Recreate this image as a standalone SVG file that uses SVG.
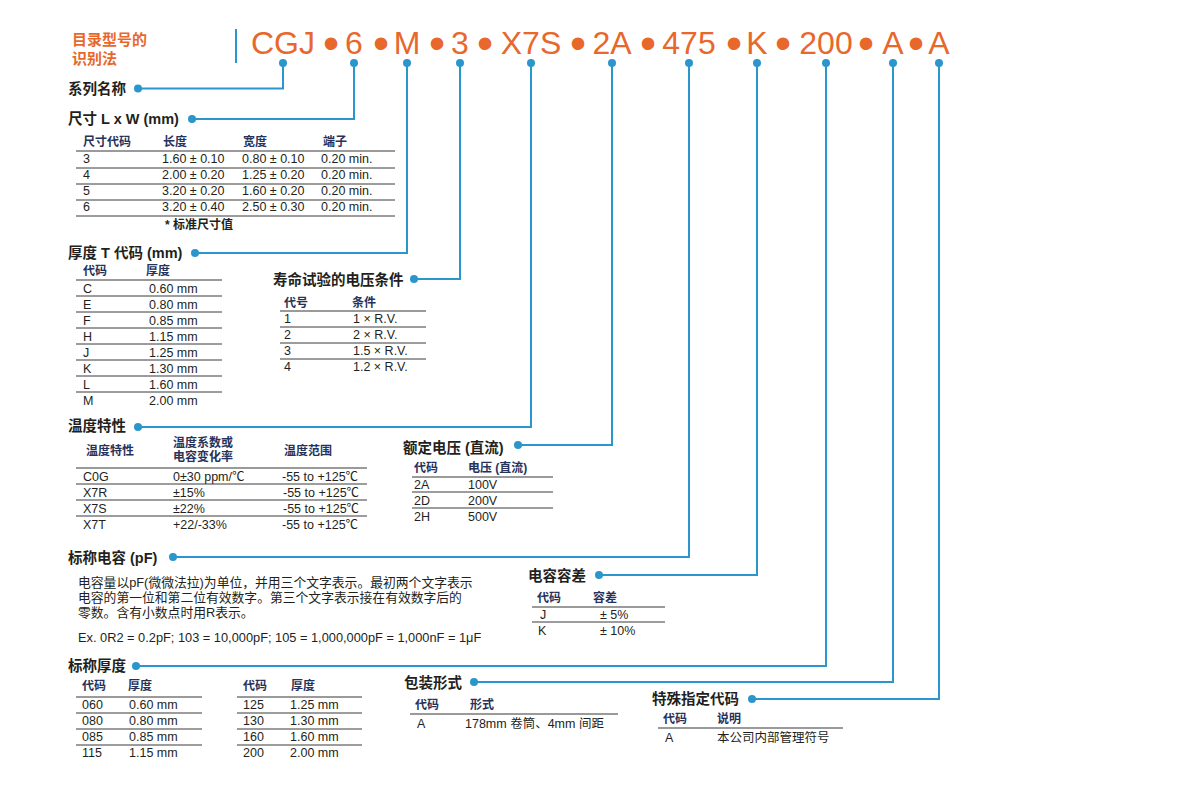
<svg xmlns="http://www.w3.org/2000/svg" width="1195" height="790" viewBox="0 0 1195 790">
<style>
text{font-family:"Liberation Sans","Noto Sans CJK SC",sans-serif;}
.ttl{font-size:32px;fill:#E8682C;text-anchor:middle;}
.bul{font-size:46px;fill:#E8682C;text-anchor:middle;}
.lab{font-size:15px;font-weight:bold;fill:#E8682C;}
.h{font-size:14.5px;font-weight:bold;fill:#231F20;}
.th{font-size:12px;font-weight:bold;fill:#27325A;}
.td{font-size:12.5px;fill:#231F20;}
.p{font-size:12.8px;fill:#231F20;}
.hl{stroke:#9A9A9A;stroke-width:2;}
.rl{stroke:#3A3A3A;stroke-width:1;}
.con{fill:none;stroke:#2A96CC;stroke-width:2;}
.dot{fill:#2A96CC;}
</style>
<rect width="1195" height="790" fill="#FFFFFF"/>
<g id="title">
<text class="lab" x="72" y="45">目录型号的</text>
<text class="lab" x="72" y="64">识别法</text>
<line x1="236" y1="29" x2="236" y2="63" stroke="#2A96CC" stroke-width="2"/>
<text class="ttl" x="283" y="54">CGJ</text>
<text class="ttl" x="354" y="54">6</text>
<text class="ttl" x="407" y="54">M</text>
<text class="ttl" x="460" y="54">3</text>
<text class="ttl" x="531" y="54">X7S</text>
<text class="ttl" x="612" y="54">2A</text>
<text class="ttl" x="689" y="54">475</text>
<text class="ttl" x="757" y="54">K</text>
<text class="ttl" x="826" y="54">200</text>
<text class="ttl" x="893" y="54">A</text>
<text class="ttl" x="939" y="54">A</text>
<text class="bul" x="331" y="59">•</text>
<text class="bul" x="381" y="59">•</text>
<text class="bul" x="437" y="59">•</text>
<text class="bul" x="485" y="59">•</text>
<text class="bul" x="578" y="59">•</text>
<text class="bul" x="648" y="59">•</text>
<text class="bul" x="734" y="59">•</text>
<text class="bul" x="783" y="59">•</text>
<text class="bul" x="866" y="59">•</text>
<text class="bul" x="916" y="59">•</text>
</g>
<g id="connectors">
<path class="con" d="M283,63 V88.5 H138"/>
<path class="con" d="M354,63 V119 H192"/>
<path class="con" d="M407,63 V253 H195"/>
<path class="con" d="M460,63 V279 H414"/>
<path class="con" d="M531,63 V427 H138"/>
<path class="con" d="M612,63 V445 H518"/>
<path class="con" d="M689,63 V557 H173"/>
<path class="con" d="M757,63 V575 H599"/>
<path class="con" d="M826,63 V666 H136"/>
<path class="con" d="M893,63 V682 H474"/>
<path class="con" d="M939,63 V699 H752"/>
<g class="dot">
<circle cx="283" cy="63" r="4"/><circle cx="354" cy="63" r="4"/><circle cx="407" cy="63" r="4"/><circle cx="460" cy="63" r="4"/><circle cx="531" cy="63" r="4"/><circle cx="612" cy="63" r="4"/><circle cx="689" cy="63" r="4"/><circle cx="757" cy="63" r="4"/><circle cx="826" cy="63" r="4"/><circle cx="893" cy="63" r="4"/><circle cx="939" cy="63" r="4"/>
<circle cx="138" cy="88.5" r="4"/><circle cx="192" cy="119" r="4"/><circle cx="195" cy="253" r="4"/><circle cx="414" cy="279" r="4"/><circle cx="138" cy="427" r="4"/><circle cx="518" cy="445" r="4"/><circle cx="173" cy="557" r="4"/><circle cx="599" cy="575" r="4"/><circle cx="136" cy="666" r="4"/><circle cx="474" cy="682" r="4"/><circle cx="752" cy="699" r="4"/>
</g>
</g>
<g id="series">
<text class="h" x="68" y="94">系列名称</text>
</g>
<g id="size">
<text class="h" x="68" y="124">尺寸 L x W (mm)</text>
<text class="th" x="83" y="146">尺寸代码</text><text class="th" x="163" y="146">长度</text><text class="th" x="243" y="146">宽度</text><text class="th" x="323" y="146">端子</text>
<line class="hl" x1="76" y1="151" x2="395" y2="151"/>
<text class="td" x="83" y="163">3</text><text class="td" x="162" y="163">1.60 ± 0.10</text><text class="td" x="242" y="163">0.80 ± 0.10</text><text class="td" x="321" y="163">0.20 min.</text>
<line class="rl" x1="76" y1="168" x2="395" y2="168"/>
<text class="td" x="83" y="179">4</text><text class="td" x="162" y="179">2.00 ± 0.20</text><text class="td" x="242" y="179">1.25 ± 0.20</text><text class="td" x="321" y="179">0.20 min.</text>
<line class="rl" x1="76" y1="184" x2="395" y2="184"/>
<text class="td" x="83" y="195">5</text><text class="td" x="162" y="195">3.20 ± 0.20</text><text class="td" x="242" y="195">1.60 ± 0.20</text><text class="td" x="321" y="195">0.20 min.</text>
<line class="rl" x1="76" y1="200" x2="395" y2="200"/>
<text class="td" x="83" y="211">6</text><text class="td" x="162" y="211">3.20 ± 0.40</text><text class="td" x="242" y="211">2.50 ± 0.30</text><text class="td" x="321" y="211">0.20 min.</text>
<line class="rl" x1="76" y1="216" x2="395" y2="216"/>
<text x="165" y="229" font-size="12" font-weight="bold" fill="#231F20">* 标准尺寸值</text>
</g>
<g id="thickness-t">
<text class="h" x="68" y="258">厚度 T 代码 (mm)</text>
<text class="th" x="83" y="275">代码</text><text class="th" x="146" y="275">厚度</text>
<line class="hl" x1="76" y1="280" x2="222" y2="280"/>
<text class="td" x="83" y="293">C</text><text class="td" x="149" y="293">0.60 mm</text>
<line class="rl" x1="76" y1="296" x2="222" y2="296"/>
<text class="td" x="83" y="309">E</text><text class="td" x="149" y="309">0.80 mm</text>
<line class="rl" x1="76" y1="312" x2="222" y2="312"/>
<text class="td" x="83" y="325">F</text><text class="td" x="149" y="325">0.85 mm</text>
<line class="rl" x1="76" y1="328" x2="222" y2="328"/>
<text class="td" x="83" y="341">H</text><text class="td" x="149" y="341">1.15 mm</text>
<line class="rl" x1="76" y1="344" x2="222" y2="344"/>
<text class="td" x="83" y="357">J</text><text class="td" x="149" y="357">1.25 mm</text>
<line class="rl" x1="76" y1="360" x2="222" y2="360"/>
<text class="td" x="83" y="373">K</text><text class="td" x="149" y="373">1.30 mm</text>
<line class="rl" x1="76" y1="376" x2="222" y2="376"/>
<text class="td" x="83" y="389">L</text><text class="td" x="149" y="389">1.60 mm</text>
<line class="rl" x1="76" y1="392" x2="222" y2="392"/>
<text class="td" x="83" y="405">M</text><text class="td" x="149" y="405">2.00 mm</text>
</g>
<g id="life-test">
<text class="h" x="273" y="285">寿命试验的电压条件</text>
<text class="th" x="284" y="307">代号</text><text class="th" x="352" y="307">条件</text>
<line class="hl" x1="280" y1="311" x2="426" y2="311"/>
<text class="td" x="284" y="323">1</text><text class="td" x="353" y="323">1 × R.V.</text>
<line class="rl" x1="280" y1="327" x2="426" y2="327"/>
<text class="td" x="284" y="339">2</text><text class="td" x="353" y="339">2 × R.V.</text>
<line class="rl" x1="280" y1="343" x2="426" y2="343"/>
<text class="td" x="284" y="355">3</text><text class="td" x="353" y="355">1.5 × R.V.</text>
<line class="rl" x1="280" y1="359" x2="426" y2="359"/>
<text class="td" x="284" y="371">4</text><text class="td" x="353" y="371">1.2 × R.V.</text>
</g>
<g id="temp-char">
<text class="h" x="68" y="431">温度特性</text>
<text class="th" x="86" y="455">温度特性</text>
<text class="th" x="173" y="447">温度系数或</text>
<text class="th" x="173" y="461">电容变化率</text>
<text class="th" x="284" y="455">温度范围</text>
<line class="hl" x1="76" y1="468" x2="367" y2="468"/>
<text class="td" x="83" y="481">C0G</text><text class="td" x="173" y="481">0±30 ppm/℃</text><text class="td" x="282" y="481">-55 to +125℃</text>
<line class="rl" x1="76" y1="484" x2="367" y2="484"/>
<text class="td" x="83" y="497">X7R</text><text class="td" x="173" y="497">±15%</text><text class="td" x="283" y="497">-55 to +125℃</text>
<line class="rl" x1="76" y1="500" x2="367" y2="500"/>
<text class="td" x="83" y="513">X7S</text><text class="td" x="173" y="513">±22%</text><text class="td" x="283" y="513">-55 to +125℃</text>
<line class="rl" x1="76" y1="516" x2="367" y2="516"/>
<text class="td" x="83" y="529">X7T</text><text class="td" x="173" y="529">+22/-33%</text><text class="td" x="282" y="529">-55 to +125℃</text>
</g>
<g id="rated-voltage">
<text class="h" x="403" y="453">额定电压 (直流)</text>
<text class="th" x="414" y="472">代码</text><text class="th" x="468" y="472">电压 (直流)</text>
<line class="hl" x1="412" y1="477" x2="553" y2="477"/>
<text class="td" x="414" y="489">2A</text><text class="td" x="468" y="489">100V</text>
<line class="rl" x1="412" y1="492" x2="553" y2="492"/>
<text class="td" x="414" y="505">2D</text><text class="td" x="468" y="505">200V</text>
<line class="rl" x1="412" y1="508" x2="553" y2="508"/>
<text class="td" x="414" y="521">2H</text><text class="td" x="468" y="521">500V</text>
</g>
<g id="capacitance">
<text class="h" x="68" y="563">标称电容 (pF)</text>
<text class="p" x="78" y="587">电容量以pF(微微法拉)为单位，并用三个文字表示。最初两个文字表示</text>
<text class="p" x="78" y="602">电容的第一位和第二位有效数字。第三个文字表示接在有效数字后的</text>
<text class="p" x="78" y="617">零数。含有小数点时用R表示。</text>
<text class="p" x="78" y="642">Ex. 0R2 = 0.2pF; 103 = 10,000pF; 105 = 1,000,000pF = 1,000nF = 1μF</text>
</g>
<g id="tolerance">
<text class="h" x="528" y="581">电容容差</text>
<text class="th" x="537" y="602">代码</text><text class="th" x="593" y="602">容差</text>
<line class="hl" x1="532" y1="607" x2="665" y2="607"/>
<text class="td" x="540" y="619">J</text><text class="td" x="600" y="619">± 5%</text>
<line class="rl" x1="532" y1="622" x2="665" y2="622"/>
<text class="td" x="538" y="635">K</text><text class="td" x="600" y="635">± 10%</text>
</g>
<g id="nominal-thickness">
<text class="h" x="68" y="671">标称厚度</text>
<text class="th" x="82" y="690">代码</text><text class="th" x="128" y="690">厚度</text>
<text class="th" x="243" y="690">代码</text><text class="th" x="291" y="690">厚度</text>
<line class="hl" x1="76" y1="697" x2="202" y2="697"/>
<line class="hl" x1="237" y1="697" x2="362" y2="697"/>
<text class="td" x="82" y="709">060</text><text class="td" x="129" y="709">0.60 mm</text>
<text class="td" x="243" y="709">125</text><text class="td" x="290" y="709">1.25 mm</text>
<line class="rl" x1="76" y1="713" x2="202" y2="713"/><line class="rl" x1="237" y1="713" x2="362" y2="713"/>
<text class="td" x="82" y="725">080</text><text class="td" x="129" y="725">0.80 mm</text>
<text class="td" x="243" y="725">130</text><text class="td" x="290" y="725">1.30 mm</text>
<line class="rl" x1="76" y1="729" x2="202" y2="729"/><line class="rl" x1="237" y1="729" x2="362" y2="729"/>
<text class="td" x="82" y="741">085</text><text class="td" x="129" y="741">0.85 mm</text>
<text class="td" x="243" y="741">160</text><text class="td" x="290" y="741">1.60 mm</text>
<line class="rl" x1="76" y1="745" x2="202" y2="745"/><line class="rl" x1="237" y1="745" x2="362" y2="745"/>
<text class="td" x="82" y="757">115</text><text class="td" x="129" y="757">1.15 mm</text>
<text class="td" x="243" y="757">200</text><text class="td" x="290" y="757">2.00 mm</text>
</g>
<g id="packaging">
<text class="h" x="404" y="688">包装形式</text>
<text class="th" x="415" y="709">代码</text><text class="th" x="470" y="709">形式</text>
<line class="hl" x1="410" y1="714" x2="618" y2="714"/>
<text class="td" x="417" y="728">A</text><text class="td" x="465" y="728">178mm 卷筒、4mm 间距</text>
</g>
<g id="special">
<text class="h" x="652" y="704">特殊指定代码</text>
<text class="th" x="663" y="723">代码</text><text class="th" x="717" y="723">说明</text>
<line class="hl" x1="658" y1="728" x2="843" y2="728"/>
<text class="td" x="665" y="742">A</text><text class="td" x="717" y="742">本公司内部管理符号</text>
</g>
</svg>
